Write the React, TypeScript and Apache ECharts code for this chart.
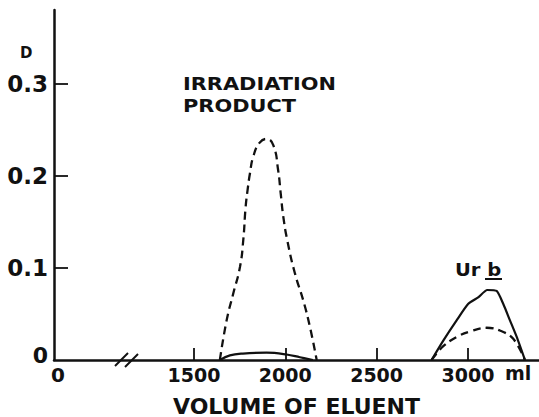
import React, { useEffect, useRef } from "react";
import * as echarts from "echarts";

// Axis extent (ml); the left end is the broken "0"
const X_MIN = 734;
const X_MAX = 3389;
const Y_MIN = 0;
const Y_MAX = 0.38;

const xTickValues = [1500, 2000, 2500, 3000];
const xLabelValues = [X_MIN, 1500, 2000, 2500, 3000];
const yTickValues = [0.1, 0.2, 0.3];
const yLabelValues = [0, 0.1, 0.2, 0.3];

// Irradiation product, dashed curve [ml, D]
const irradDashed: [number, number][] = [
  [1642, 0], [1679, 0.043], [1715, 0.072], [1752, 0.101], [1770, 0.13],
  [1783, 0.166], [1794, 0.185], [1807, 0.203], [1825, 0.221], [1860, 0.236],
  [1898, 0.24], [1935, 0.233], [1961, 0.206], [1975, 0.181], [1989, 0.156],
  [2011, 0.13], [2053, 0.094], [2098, 0.065], [2135, 0.036], [2172, 0],
];
// Irradiation product, solid curve
const irradSolid: [number, number][] = [
  [1642, 0], [1697, 0.005], [1768, 0.007], [1898, 0.008], [2007, 0.006],
  [2080, 0.003], [2151, 0],
];
// Ur b, solid curve
const urbSolid: [number, number][] = [
  [2801, 0], [2865, 0.021], [2938, 0.043], [3002, 0.061], [3056, 0.068],
  [3106, 0.076], [3157, 0.075], [3193, 0.061], [3230, 0.043], [3267, 0.025],
  [3312, 0],
];
// Ur b, dashed curve
const urbDashed: [number, number][] = [
  [2801, 0], [2865, 0.015], [2938, 0.025], [3011, 0.031], [3102, 0.035],
  [3175, 0.032], [3248, 0.023], [3312, 0],
];

const INK = "#111";
const FONT = "DejaVu Sans";

export default function App() {
  const ref = useRef<HTMLDivElement>(null);
  useEffect(() => {
    if (!ref.current) return;
    const chart = echarts.init(ref.current, undefined, { renderer: "svg" });
    const txt = (extra: any) => ({
      fontFamily: FONT,
      fontWeight: "bold",
      fill: INK,
      ...extra,
    });
    chart.setOption({
      animation: false,
      backgroundColor: "#fff",
      grid: { left: 54, right: 0, top: 10, bottom: 57, outerBoundsMode: "none" },
      xAxis: {
        type: "value",
        min: X_MIN,
        max: X_MAX,
        name: "VOLUME OF ELUENT",
        nameLocation: "middle",
        nameGap: 36,
        nameTextStyle: { fontFamily: FONT, fontWeight: "bold", fontSize: 22, lineHeight: 20, color: INK },
        splitLine: { show: false },
        axisLine: { lineStyle: { color: INK, width: 2.5 } },
        axisTick: {
          show: true,
          inside: true,
          length: 12,
          lineStyle: { color: INK, width: 1.8 },
          customValues: xTickValues,
        },
        axisLabel: {
          customValues: xLabelValues,
          margin: 5,
          fontFamily: FONT,
          fontWeight: "bold",
          fontSize: 19,
          color: INK,
          formatter: (v: number) => (v === X_MIN ? "{o|0}" : String(v)),
          rich: {
            o: { fontFamily: FONT, fontWeight: "bold", fontSize: 20, color: INK, padding: [0, 0, 0, 8] },
          },
        },
      },
      yAxis: {
        type: "value",
        min: Y_MIN,
        max: Y_MAX,
        interval: 0.1,
        splitLine: { show: false },
        axisLine: { show: true, lineStyle: { color: INK, width: 2.5 } },
        axisTick: {
          show: true,
          inside: true,
          length: 14,
          lineStyle: { color: INK, width: 1.8 },
          customValues: yTickValues,
        },
        axisLabel: {
          customValues: yLabelValues,
          margin: 6,
          fontFamily: FONT,
          fontWeight: "bold",
          fontSize: 23,
          color: INK,
          formatter: (v: number) => (v === 0 ? "{z|0}" : v.toFixed(1)),
          rich: {
            z: { fontFamily: FONT, fontWeight: "bold", fontSize: 22, color: INK, padding: [0, 0, 10, 0] },
          },
        },
      },
      series: [
        {
          type: "line",
          data: irradDashed,
          smooth: 0.5,
          symbol: "none",
          lineStyle: { color: INK, width: 2.3, type: [8, 5] },
        },
        {
          type: "line",
          data: irradSolid,
          smooth: 0.4,
          symbol: "none",
          lineStyle: { color: INK, width: 2.2 },
        },
        {
          type: "line",
          data: urbSolid,
          smooth: 0.2,
          symbol: "none",
          lineStyle: { color: INK, width: 2.2 },
        },
        {
          type: "line",
          data: urbDashed,
          smooth: 0.4,
          symbol: "none",
          lineStyle: { color: INK, width: 2.3, type: [8, 5] },
        },
      ],
      graphic: [
        { type: "text", x: 20, y: 45, style: txt({ text: "D", fontSize: 15 }) },
        { type: "text", x: 183, y: 74, scaleX: 1.13, style: txt({ text: "IRRADIATION", fontSize: 18.5 }) },
        { type: "text", x: 183, y: 96, scaleX: 1.13, style: txt({ text: "PRODUCT", fontSize: 18.5 }) },
        { type: "text", x: 455, y: 261, scaleX: 1.15, style: txt({ text: "Ur b", fontSize: 17 }) },
        { type: "line", shape: { x1: 485, y1: 279, x2: 502, y2: 279 }, style: { stroke: INK, lineWidth: 2 } },
        { type: "text", x: 505, y: 363, style: txt({ text: "ml", fontSize: 19 }) },
        { type: "line", shape: { x1: 115, y1: 366, x2: 128, y2: 353 }, style: { stroke: INK, lineWidth: 2 } },
        { type: "line", shape: { x1: 125, y1: 367, x2: 138, y2: 354 }, style: { stroke: INK, lineWidth: 2 } },
      ],
    });
    return () => chart.dispose();
  }, []);
  return (
    <div
      ref={ref}
      style={{ position: "fixed", left: 0, top: 0, width: 539, height: 417 }}
    />
  );
}
